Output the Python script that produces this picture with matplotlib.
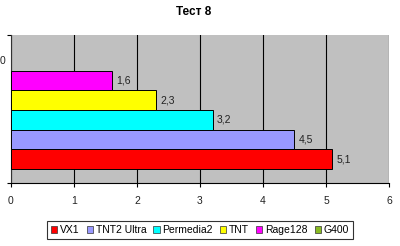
import matplotlib
matplotlib.use("Agg")
import matplotlib.pyplot as plt
from matplotlib.patches import Patch

plt.rcParams['font.family'] = ['Liberation Sans', 'DejaVu Sans']

# series, bottom to top
series = ["VX1", "TNT2 Ultra", "Permedia2", "TNT", "Rage128", "G400"]
values = [5.1, 4.5, 3.2, 2.3, 1.6, 0.0]
labels = ["5,1", "4,5", "3,2", "2,3", "1,6", "0"]
colors = ["#FF0000", "#9999FF", "#00FFFF", "#FFFF00", "#FF00FF", "#88BB22"]
xticks = [0, 1, 2, 3, 4, 5, 6]
title = "Тест 8"

fig = plt.figure(figsize=(4.0, 2.46), dpi=100)
fig.patch.set_facecolor("white")
ax = fig.add_axes([11 / 400, 63 / 246, 378 / 400, 148 / 246])
ax.set_facecolor("#C0C0C0")

ypos = list(range(len(series)))
for y, v, c in zip(ypos, values, colors):
    if v > 0:
        ax.barh(y, v, height=1.0, color=c, edgecolor="black", linewidth=0.7, zorder=3)

for y, v, t in zip(ypos, values, labels):
    if v > 0:
        ax.annotate(t, (v, y), xytext=(3, 0), textcoords="offset points",
                    ha="left", va="center", fontsize=7.5, color="#222222")
    else:
        ax.annotate(t, (v, y), xytext=(-6, 0), textcoords="offset points",
                    ha="center", va="center", fontsize=7.5, color="#222222",
                    annotation_clip=False)

ax.set_xlim(0, 6)
ax.set_ylim(-1.21, 6.31)
ax.set_xticks(xticks)
ax.set_xticklabels([str(x) for x in xticks], fontsize=7.5, color="#222222")
ax.set_yticks([-1.21, 6.31])
ax.set_yticklabels([])
ax.tick_params(axis="both", direction="out", length=3, width=0.8, colors="black", pad=6)
ax.tick_params(axis="x", labelcolor="#222222")
ax.grid(axis="x", color="black", linewidth=0.8, zorder=1)

ax.spines["top"].set_visible(False)
ax.spines["right"].set_visible(False)
ax.spines["left"].set_color("#333333")
ax.spines["bottom"].set_color("black")

fig.text(0.485, 1 - 12 / 246, title, ha="center", va="center",
         fontsize=8.5, fontweight="bold")

handles = [Patch(facecolor=c, edgecolor="#333333", linewidth=0.5) for c in colors]
leg = fig.legend(handles, series, loc="center", bbox_to_anchor=(0.5, 1 - 230 / 246),
                 ncol=6, fontsize=7.5, frameon=True, fancybox=False,
                 handlelength=0.6, handleheight=0.6, handletextpad=0.25,
                 columnspacing=0.7, borderpad=0.35, borderaxespad=0)
leg.get_frame().set_edgecolor("black")
leg.get_frame().set_linewidth(0.8)

fig.savefig("out.png", dpi=100)
